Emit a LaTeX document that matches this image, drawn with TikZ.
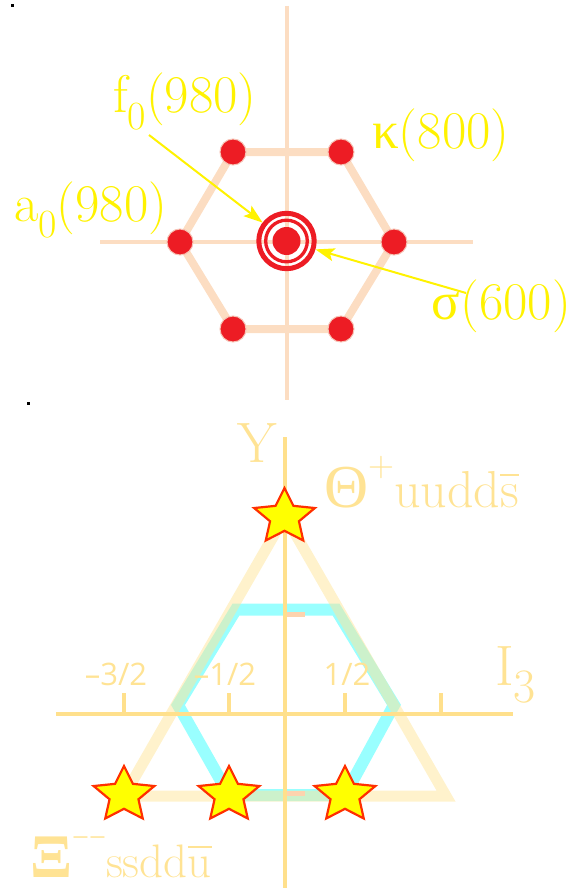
\documentclass[tikz,border=0pt]{standalone}
\usepackage{fontspec}
\newfontfamily\grk{Liberation Serif}
\newfontfamily\tsans{Open Sans}
\usetikzlibrary{arrows.meta,shapes.geometric}
\definecolor{peach}{HTML}{FCDDC2}
\definecolor{peachdash}{HTML}{FDD3AE}
\definecolor{dotred}{HTML}{ED1C24}
\definecolor{dothalo}{HTML}{F6C2B4}
\definecolor{labyel}{HTML}{FFF200}
\definecolor{axyel}{HTML}{FFE08C}
\definecolor{txtyel}{HTML}{FFE394}
\definecolor{trifill}{HTML}{FFE599}
\definecolor{hexcyan}{HTML}{99FFFF}
\definecolor{starfill}{HTML}{FFFF00}
\definecolor{staredge}{HTML}{FF3000}
\newsavebox\ovbox
\newcommand\myovl[2]{\sbox\ovbox{#2}\rlap{\rule[#1]{\wd\ovbox}{2.5pt}}\usebox\ovbox}
\tikzset{
  lbl/.style={text=labyel, font=\fontsize{53}{60}\selectfont, inner sep=0pt, anchor=base west},
  blbl/.style={text=txtyel, inner sep=0pt},
  ticklbl/.style={text=txtyel, font=\tsans\fontsize{31}{36}\selectfont, inner sep=0pt, anchor=base},
  reddot/.style={circle, fill=dotred, draw=dothalo, line width=1pt, minimum size=26pt, inner sep=0pt},
  hexline/.style={draw=peach, line width=8pt},
  thinaxis/.style={draw=peach, line width=3.5pt},
  arr/.style={draw=labyel, line width=2pt, -{Stealth[length=19pt,width=13pt,inset=4pt]}},
  starnode/.style={star, star points=5, star point ratio=2.1, minimum size=58pt, inner sep=0pt,
    fill=starfill, draw=staredge, line width=2.2pt, xscale=1.1, transform shape},
  axisline/.style={draw=axyel, line width=4.5pt},
  tickmark/.style={draw=axyel, line width=4.5pt},
}
\begin{document}
\begin{tikzpicture}[x=1pt,y=-1pt]
\useasboundingbox (0,0) rectangle (571,888);
% black dots
\fill[black] (10.5,4.5) rectangle (13.5,7.5);
\fill[black] (27,401.5) rectangle (30,404.5);

% ===== top diagram =====
\coordinate (vt) at (287,6);
\coordinate (vb) at (287,400);
\coordinate (hl) at (100,242);
\coordinate (hr) at (473,242);
\draw[thinaxis] (vt) -- (vb);
\draw[thinaxis] (hl) -- (hr);
\coordinate (p1) at (233,152);
\coordinate (p2) at (341,152);
\coordinate (p3) at (394,242);
\coordinate (p4) at (341,329);
\coordinate (p5) at (233,329);
\coordinate (p6) at (180,242);
\draw[hexline] (p1) -- (p2) -- (p3) -- (p4) -- (p5) -- (p6) -- cycle;
\foreach \i in {1,...,6} \node[reddot] (d\i) at (p\i) {};
\node[circle, fill=dotred, minimum size=28pt, inner sep=0pt] (c0) at (286.5,241) {};
\node[circle, draw=dotred, line width=3.3pt, minimum size=41.6pt, inner sep=0pt] (ring1) at (c0) {};
\node[circle, draw=dotred, line width=5pt, minimum size=55.4pt, inner sep=0pt] (ring2) at (c0) {};

\node[lbl] (f0) at (113,113) {f\raisebox{-17pt}{\fontsize{40}{44}\selectfont 0}(980)};
\node[lbl] (kap) at (372,148) {{\grk κ}(800)};
\node[lbl] (a0) at (14,221) {a\raisebox{-16pt}{\fontsize{40}{44}\selectfont 0}(980)};
\node[lbl, anchor=base east] (sig) at (571,319) {{\grk σ}(600)};
\coordinate (f0tail) at (149,135);
\coordinate (sigtail) at (466,293);
\draw[arr] (f0tail) -- (ring2);
\draw[arr] (sigtail) -- (ring2);

% ===== bottom diagram =====
\coordinate (h1) at (236,609.5);
\coordinate (h2) at (336,609.5);
\coordinate (h3) at (394,705);
\coordinate (h4) at (345,795);
\coordinate (h5) at (229,795);
\coordinate (h6) at (178,705);
\draw[draw=hexcyan, line width=12pt] (h1) -- (h2) -- (h3) -- (h4) -- (h5) -- (h6) -- cycle;
\coordinate (ta) at (285,516);
\coordinate (tl) at (124,796);
\coordinate (tr) at (446,796);
\draw[draw=trifill, line width=11pt, opacity=0.5] (ta) -- (tr) -- (tl) -- cycle;
\fill[peachdash] (286,611.5) rectangle (305,616.5);
\fill[peachdash] (286,791) rectangle (305,796);

\coordinate (yt) at (285,437);
\coordinate (yb) at (285,888);
\coordinate (xl) at (56,714);
\coordinate (xr) at (513,714);
\draw[axisline] (yt) -- (yb);
\draw[axisline] (xl) -- (xr);
\foreach \t/\x in {a/124,b/229,c/345,d/441} {
  \coordinate (tk\t) at (\x,714);
  \coordinate (tt\t) at (\x,693);
  \draw[tickmark] (tk\t) -- (tt\t);
}
\node[ticklbl] (m32) at (116,685) {–3/2};
\node[ticklbl] (m12) at (225,685) {–1/2};
\node[ticklbl] (p12) at (347,685) {1/2};

\node[blbl, anchor=base, font=\fontsize{57}{60}\selectfont] (Y) at (257,462) {Y};
\node[blbl, anchor=base west, font=\fontsize{57}{60}\selectfont] (I3) at (495,685) {I\raisebox{-17pt}{\fontsize{48}{52}\selectfont 3}};
\node[blbl, anchor=base west] (theta) at (324,507) {{\grk\fontsize{61}{66}\selectfont Θ}\raisebox{31pt}{\fontsize{36}{40}\selectfont +}{\fontsize{52}{56}\selectfont uudd\myovl{31pt}{s}}};
\node[blbl, anchor=base west] (xi) at (30,877) {{\grk\bfseries\fontsize{62}{66}\selectfont Ξ}\raisebox{30pt}{\grk\fontsize{30}{34}\selectfont −−}{\fontsize{47}{50}\selectfont ssdd\myovl{29pt}{u}}};

\node[starnode] (s1) at (284.5,517) {};
\node[starnode] (s2) at (124,795) {};
\node[starnode] (s3) at (229,795) {};
\node[starnode] (s4) at (345,795) {};
\end{tikzpicture}
\end{document}
